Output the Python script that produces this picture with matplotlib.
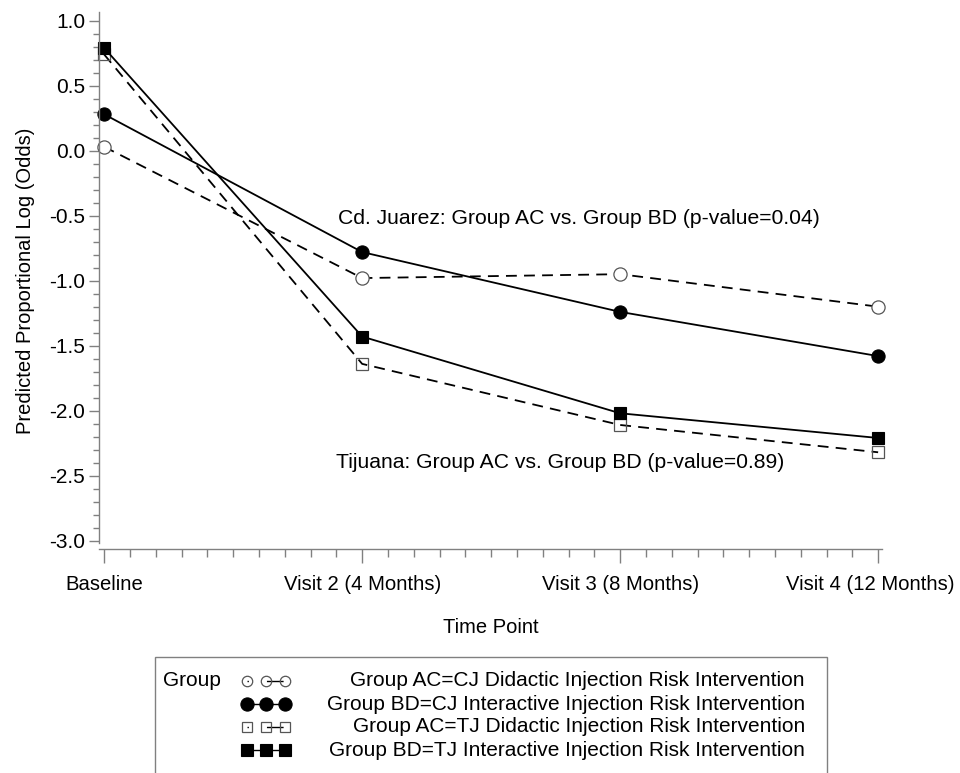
import matplotlib
matplotlib.use("Agg")
import matplotlib.pyplot as plt
import matplotlib.transforms as mtransforms
from matplotlib.lines import Line2D
from matplotlib.ticker import MultipleLocator, FormatStrFormatter

plt.rcParams['font.family'] = ['Liberation Sans', 'DejaVu Sans']

# time in months
months = [0, 4, 8, 12]
tick_labels = ['Baseline', 'Visit 2 (4 Months)', 'Visit 3 (8 Months)', 'Visit 4 (12 Months)']

cj_ac = [0.03, -0.98, -0.95, -1.20]
cj_bd = [0.28, -0.78, -1.24, -1.58]
tj_ac = [0.74, -1.64, -2.11, -2.32]
tj_bd = [0.79, -1.43, -2.02, -2.21]

group_labels = [
    'Group AC=CJ Didactic Injection Risk Intervention',
    'Group BD=CJ Interactive Injection Risk Intervention',
    'Group AC=TJ Didactic Injection Risk Intervention',
    'Group BD=TJ Interactive Injection Risk Intervention',
]

W, H = 960, 773
fig = plt.figure(figsize=(W / 100, H / 100), dpi=100)
ax = fig.add_axes([99 / W, 1 - 549 / H, (882 - 99) / W, (549 - 11.7) / H])

dash = (0, (6, 4))
styles = [
    dict(ls=dash, marker='o', mfc='white', mec='#555555', mew=0.9, ms=9.5),
    dict(ls='-', marker='o', mfc='black', mec='black', mew=0.8, ms=9.5),
    dict(ls=dash, marker='s', mfc='none', mec='#555555', mew=0.9, ms=9),
    dict(ls='-', marker='s', mfc='black', mec='black', mew=0.8, ms=9),
]
series = [cj_ac, cj_bd, tj_ac, tj_bd]

for vals, st in zip(series, styles):
    ax.plot(months, vals, color='black', lw=1.3, clip_on=False, **st)

ax.set_xlim(-0.08, 12.06)
ax.set_ylim(-3.064, 1.069)
ax.spines['left'].set_bounds(-3.02, 1.069)
for side in ['top', 'right']:
    ax.spines[side].set_visible(False)
for side in ['left', 'bottom']:
    ax.spines[side].set_color('#808080')
    ax.spines[side].set_linewidth(1.0)

ax.set_xticks(months)
ax.set_xticklabels(tick_labels)
ax.xaxis.set_minor_locator(MultipleLocator(0.4))
ax.yaxis.set_major_locator(MultipleLocator(0.5))
ax.yaxis.set_minor_locator(MultipleLocator(0.1))
ax.yaxis.set_major_formatter(FormatStrFormatter('%.1f'))

ax.tick_params(axis='both', which='both', color='#808080', width=1.0)
ax.tick_params(axis='x', which='major', length=10, pad=9, labelsize=14.6)
ax.tick_params(axis='x', which='minor', length=6)
ax.tick_params(axis='y', which='major', length=7, pad=3, labelsize=15)
ax.tick_params(axis='y', which='minor', length=4)

# last label sits a little left of its tick so it stays inside the picture
last = ax.get_xticklabels()[-1]
last.set_transform(last.get_transform() + mtransforms.ScaledTranslation(-8 / 100, 0, fig.dpi_scale_trans))

ax.set_xlabel('Time Point', fontsize=14.5, labelpad=17)
ax.set_ylabel('Predicted Proportional Log (Odds)', fontsize=14.5, labelpad=10)

ax.text(3.62, -0.52, 'Cd. Juarez: Group AC vs. Group BD (p-value=0.04)',
        fontsize=15.2, va='center', ha='left')
ax.text(3.59, -2.40, 'Tijuana: Group AC vs. Group BD (p-value=0.89)',
        fontsize=15.2, va='center', ha='left')

# legend box, drawn by hand in figure pixels
def fx(px):
    return px / W


def fy(py):
    return 1 - py / H


box = plt.Rectangle((fx(155), fy(790)), fx(827) - fx(155), fy(657) - fy(790),
                    transform=fig.transFigure, fill=False, edgecolor='#808080', lw=1.0)
fig.patches.append(box)
fig.text(fx(163), fy(681), 'Group', fontsize=15, va='center', ha='left')

row_y = [681, 704, 727, 750]
for yy, st, lab in zip(row_y, styles, group_labels):
    sample = dict(st)
    if st['mfc'] in ('white', 'none'):
        sample['ms'] = 7.5
        sample['mfc'] = 'none'
        sample['ls'] = (0, (1, 13, 12, 100))
    else:
        sample['ls'] = '-'
    fig.add_artist(Line2D([fx(247), fx(266), fx(285)], [fy(yy)] * 3, transform=fig.transFigure,
                          color='black', lw=1.0, **sample))
    fig.text(fx(805), fy(yy), lab, fontsize=15, va='center', ha='right')

fig.savefig('out.png', dpi=100)
